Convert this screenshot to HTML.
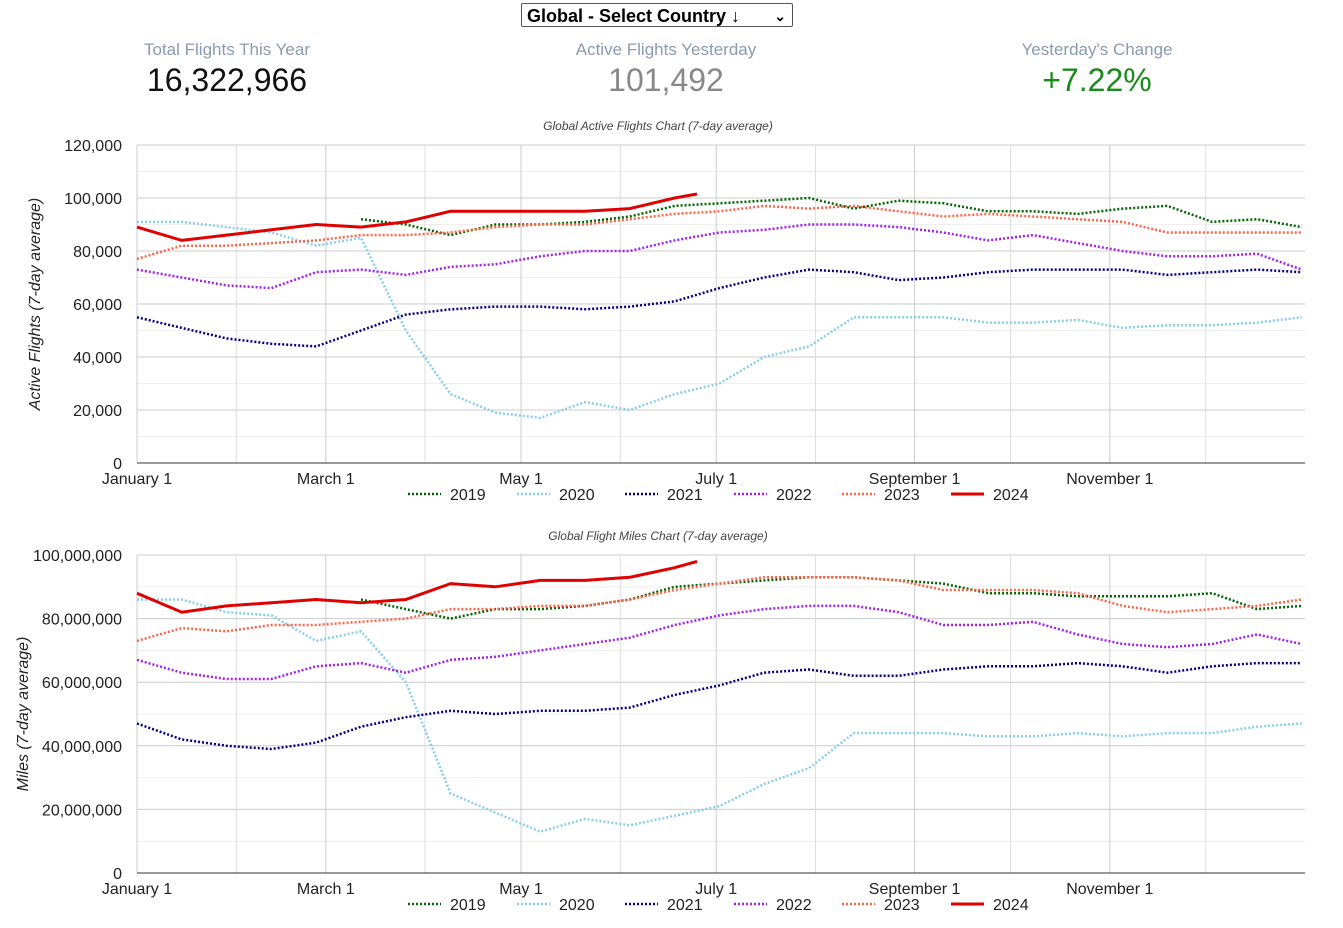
<!DOCTYPE html>
<html><head><meta charset="utf-8">
<style>
body{margin:0;background:#fff;font-family:"Liberation Sans",Arial,sans-serif;width:1343px;height:928px;overflow:hidden;position:relative}
.sel{position:absolute;left:521px;top:3px;width:272px;height:24px;border:1px solid #555;border-radius:2px;font-weight:bold;font-size:18px;line-height:24px;padding-left:5px;box-sizing:border-box}
.stat{position:absolute;top:40px;width:300px;text-align:center}
.stat .l{color:#8a9bb0;font-size:17px}
.stat .v{font-size:32px;margin-top:2px}
svg{position:absolute;left:0;top:0}
</style></head><body>
<div class="sel">Global - Select Country ↓<span style="position:absolute;right:6px;top:0;font-size:14px">⌄</span></div>
<div class="stat" style="left:77px"><div class="l">Total Flights This Year</div><div class="v" style="color:#111">16,322,966</div></div>
<div class="stat" style="left:516px"><div class="l">Active Flights Yesterday</div><div class="v" style="color:#888">101,492</div></div>
<div class="stat" style="left:947px"><div class="l">Yesterday's Change</div><div class="v" style="color:#1a8a1a">+7.22%</div></div>
<svg id="svg" width="1343" height="928"></svg>
<script>
const days=[0,14,28,42,56,70,84,98,112,126,140,154,168,182,196,210,224,238,252,266,280,294,308,322,336,350,364];
const days2024a=[0,14,28,42,56,70,84,98,112,126,140,154,168,175];
const years=["2019","2020","2021","2022","2023","2024"];
const colors=["#006400","#87CEEB","#000080","#a020f0","#FF6347","#e00000"];
const monthLabels=["January 1","March 1","May 1","July 1","September 1","November 1"];
const monthDays=[0,59,120,181,243,304];
const minorDays=[31,90,151,212,273,334];
const n=null;
const f2019=[n,n,n,n,n,92,90,86,90,90,91,93,97,98,99,100,96,99,98,95,95,94,96,97,91,92,89];
const f2020=[91,91,89,87,82,85,50,26,19,17,23,20,26,30,40,44,55,55,55,53,53,54,51,52,52,53,55];
const f2021=[55,51,47,45,44,50,56,58,59,59,58,59,61,66,70,73,72,69,70,72,73,73,73,71,72,73,72];
const f2022=[73,70,67,66,72,73,71,74,75,78,80,80,84,87,88,90,90,89,87,84,86,83,80,78,78,79,73];
const f2023=[77,82,82,83,84,86,86,87,89,90,90,92,94,95,97,96,97,95,93,94,93,92,91,87,87,87,87];
const f2024=[89,84,86,88,90,89,91,95,95,95,95,96,100,101.5];
const m2019=[n,n,n,n,n,86,83,80,83,83,84,86,90,91,92,93,93,92,91,88,88,87,87,87,88,83,84];
const m2020=[86,86,82,81,73,76,60,25,19,13,17,15,18,21,28,33,44,44,44,43,43,44,43,44,44,46,47];
const m2021=[47,42,40,39,41,46,49,51,50,51,51,52,56,59,63,64,62,62,64,65,65,66,65,63,65,66,66];
const m2022=[67,63,61,61,65,66,63,67,68,70,72,74,78,81,83,84,84,82,78,78,79,75,72,71,72,75,72];
const m2023=[73,77,76,78,78,79,80,83,83,84,84,86,89,91,93,93,93,92,89,89,89,88,84,82,83,84,86];
const m2024=[88,82,84,85,86,85,86,91,90,92,92,93,96,98];
const ticks1=["0","20,000","40,000","60,000","80,000","100,000","120,000"];
const ticks2=["0","20,000,000","40,000,000","60,000,000","80,000,000","100,000,000"];
const NS="http://www.w3.org/2000/svg";
const svg=document.getElementById('svg');
function el(t,a,txt){const e=document.createElementNS(NS,t);for(const k in a)e.setAttribute(k,a[k]);if(txt!==undefined)e.textContent=txt;svg.appendChild(e);return e;}
const X0=137,X1=1305;
const xs=d=>X0+d*(X1-X0)/365;
function chart(top,bot,maxV,ticks,series,title,ytitle,ytx,prefix){
  const ys=v=>bot-v/maxV*(bot-top);
  const step=maxV/(ticks.length-1);
  for(let i=0;i<(ticks.length-1)*2;i++){const v=step/2*(i+1);if(i%2==0){let g=el('line',{x1:X0,x2:X1,y1:ys(v),y2:ys(v),stroke:'#eee'});}}
  ticks.forEach((t,i)=>{const y=ys(step*i);
    let g=el('line',{x1:X0,x2:X1,y1:y,y2:y,stroke:'#ccc'});
    let tx=el('text',{x:122,y:y+6,'text-anchor':'end','font-size':16,fill:'#222'},t);});
  minorDays.forEach(d=>{let g=el('line',{x1:xs(d),x2:xs(d),y1:top,y2:bot,stroke:'#ddd'});});
  monthDays.forEach((d,i)=>{let g=el('line',{x1:xs(d),x2:xs(d),y1:top,y2:bot,stroke:'#ccc'});
    let tx=el('text',{x:xs(d),y:bot+21,'text-anchor':'middle','font-size':16,fill:'#222'},monthLabels[i]);});
  let ax=el('line',{x1:X0,x2:X1,y1:bot,y2:bot,stroke:'#333'});
  let tt=el('text',{x:658,y:top-15,'text-anchor':'middle','font-size':12,'font-style':'italic',fill:'#444'},title);
  let yt=el('text',{x:0,y:0,'text-anchor':'middle','font-size':16,'font-style':'italic',fill:'#222',transform:`translate(${ytx},${(top+bot)/2}) rotate(-90)`},ytitle);
  series.forEach((s,i)=>{const dd=i==5?days2024a:days;let p='',pen=false;
    s.forEach((v,j)=>{if(v===null){pen=false;return;}p+=(pen?'L':'M')+xs(dd[j]).toFixed(1)+','+ys(v*step/20*(ticks.length==7?1000/1000:1)*(maxV/((ticks.length-1)*step))*(i>=0?1:1)*(maxV==120?1:1)).toFixed(1);pen=true;});
    const a={d:p,fill:'none',stroke:colors[i],'stroke-width':i==5?3:2.5};if(i<5)a['stroke-dasharray']='2,2';
    let pa=el('path',a);});
  const lx=[408,517,625,734,842,951];
  years.forEach((y,i)=>{const ly=bot+36;
    const a={x1:lx[i],x2:lx[i]+33,y1:ly-5,y2:ly-5,stroke:colors[i],'stroke-width':i==5?3:2.5};if(i<5)a['stroke-dasharray']='2,2';
    let l=el('line',a);
    let t=el('text',{x:lx[i]+42,y:ly+1,'font-size':16,fill:'#222'},y);});
}
// values in thousands / millions; scale so that axis max corresponds to 120 / 100
chart(145,463,120,ticks1,[f2019,f2020,f2021,f2022,f2023,f2024],"Global Active Flights Chart (7-day average)","Active Flights (7-day average)",40,'flights');
chart(555,873,100,ticks2,[m2019,m2020,m2021,m2022,m2023,m2024],"Global Flight Miles Chart (7-day average)","Miles (7-day average)",28,'miles');
</script>
</body></html>
